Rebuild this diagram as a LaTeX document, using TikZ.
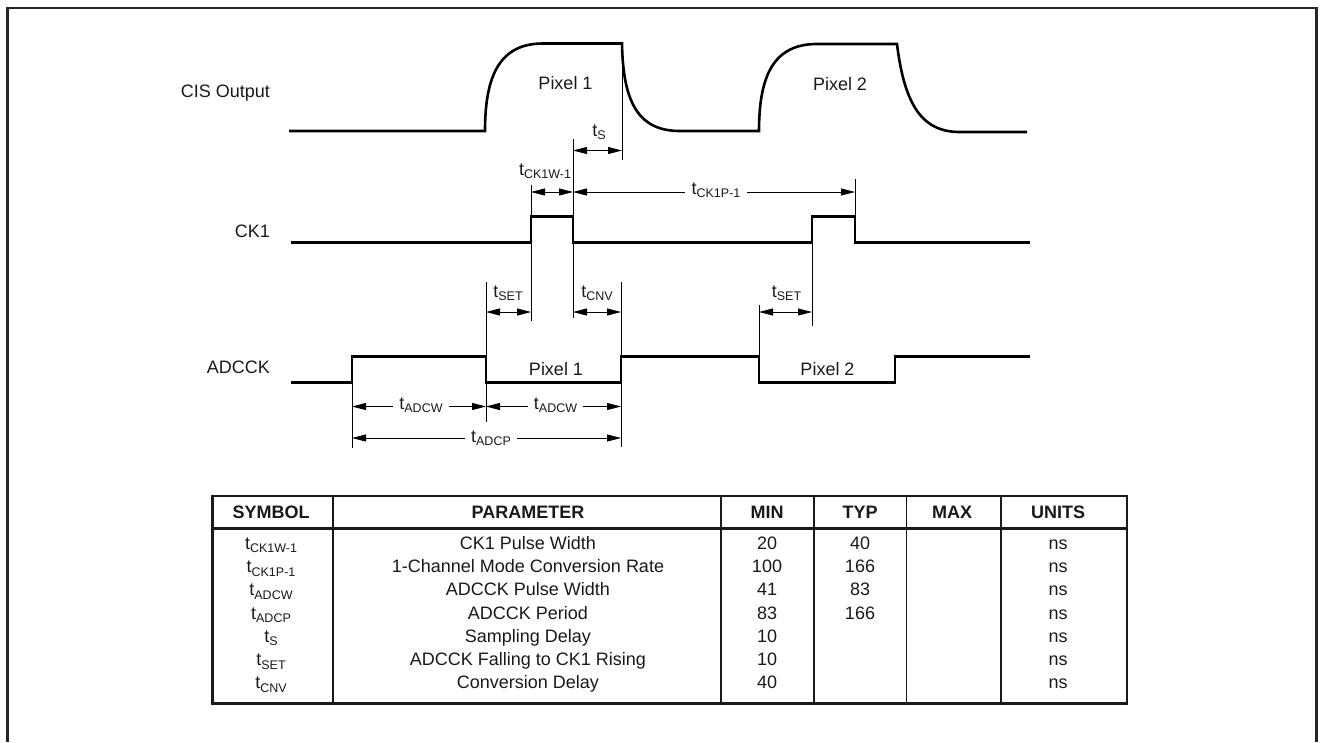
\documentclass[tikz,border=0pt]{standalone}
\usepackage{fontspec}
\setmainfont{Liberation Sans}
\usetikzlibrary{arrows.meta}
\newcommand{\tsb}[1]{t\raisebox{-3.5pt}{\fontsize{12.5}{13}\selectfont #1}}
\tikzset{
  wave/.style={line width=2.6pt, line join=miter, line cap=butt},
  ext/.style={line width=0.8pt},
  dim/.style={line width=0.8pt, arrows={Triangle[length=14pt,width=7pt]-Triangle[length=14pt,width=7pt]}},
  dimr/.style={line width=0.8pt, arrows={-Triangle[length=14pt,width=7pt]}},
  txt/.style={font=\fontsize{18}{21}\selectfont, inner sep=0pt, anchor=base, text=black!90},
  gaplbl/.style={txt, inner xsep=6pt},
  hdr/.style={txt, font=\fontsize{18}{21}\selectfont\bfseries},
  frame/.style={line width=2.6pt, draw=black!85},
  tbl/.style={line width=2.6pt, draw=black!90},
  tblm/.style={line width=2pt, draw=black!90},
  tbls/.style={line width=1.3pt, draw=black!90}
}
\begin{document}
\begin{tikzpicture}[x=1pt,y=-1pt]
\useasboundingbox (0,0) rectangle (1321,742);
% outer frame (open at bottom)
\draw[frame] (7.5,742) -- (7.5,8) -- (1316.5,8) -- (1316.5,742);

% signal names
\node[txt, anchor=base east] (nCIS) at (270,97) {CIS Output};
\node[txt, anchor=base east] (nCK1) at (270,237) {CK1};
\node[txt, anchor=base east] (nADC) at (270,373) {ADCCK};

% CIS output waveform
\draw[wave] (289,131) -- (485,131) .. controls (485,75) and (500,43.5) .. (543,43.5)
  -- (622,43.5) .. controls (623,105) and (640,131) .. (680,131)
  -- (759,131) .. controls (759,75) and (774,44) .. (817,44)
  -- (897,44) .. controls (905,110) and (925,132) .. (960,132) -- (1027,132);
\node[txt] (pix1a) at (565.5,89) {Pixel 1};
\node[txt] (pix2a) at (840,90) {Pixel 2};

% CK1 waveform
\draw[wave] (291,242.5) -- (531,242.5) -- (531,216.5) -- (573,216.5) -- (573,242.5)
  -- (812,242.5) -- (812,216.5) -- (855,216.5) -- (855,242.5) -- (1030,242.5);

% ADCCK waveform
\draw[wave] (291,382.5) -- (352,382.5) -- (352,356.5) -- (486,356.5) -- (486,382.5)
  -- (621,382.5) -- (621,356.5) -- (759,356.5) -- (759,382.5) -- (895,382.5)
  -- (895,356.5) -- (1030,356.5);
\node[txt] (pix1b) at (556,375) {Pixel 1};
\node[txt] (pix2b) at (827.5,375) {Pixel 2};

% extension lines
\draw[ext] (622,43.5) -- (622,160);
\draw[ext] (531,185) -- (531,321);
\draw[ext] (573,139) -- (573,318);
\draw[ext] (855,179) -- (855,216.5);
\draw[ext] (812,242.5) -- (812,326);
\draw[ext] (352,382.5) -- (352,448);
\draw[ext] (486,282) -- (486,422);
\draw[ext] (621,282) -- (621,447);
\draw[ext] (759,305) -- (759,356.5);

% t_S
\coordinate (sL) at (573,150.5); \coordinate (sR) at (622,150.5);
\draw[dim] (sL) -- (sR);
\node[txt] (lS) at (599,136) {\tsb{S}};

% t_CK1W-1
\coordinate (wL) at (531,192); \coordinate (wR) at (573,192);
\draw[dim] (wL) -- (wR);
\node[txt] (lW1) at (545,175) {\tsb{CK1W-1}};

% t_CK1P-1
\coordinate (pL) at (573,192); \coordinate (pR) at (855,192);
\node[gaplbl] (lP1) at (716,194) {\tsb{CK1P-1}};
\draw[dimr] (lP1.west |- pL) -- (pL);
\draw[dimr] (lP1.east |- pR) -- (pR);

% t_SET (1), t_CNV, t_SET (2)
\coordinate (e1L) at (486,312); \coordinate (e1R) at (531,312);
\draw[dim] (e1L) -- (e1R);
\node[txt] (lSET1) at (508,297) {\tsb{SET}};
\coordinate (cL) at (573,312); \coordinate (cR) at (621,312);
\draw[dim] (cL) -- (cR);
\node[txt] (lCNV) at (597,297) {\tsb{CNV}};
\coordinate (e2L) at (759,312); \coordinate (e2R) at (812,312);
\draw[dim] (e2L) -- (e2R);
\node[txt] (lSET2) at (786.5,297) {\tsb{SET}};

% t_ADCW (1) and (2)
\coordinate (a1L) at (352,406.5); \coordinate (a1R) at (486,406.5);
\node[gaplbl] (lADW1) at (421,409) {\tsb{ADCW}};
\draw[dimr] (lADW1.west |- a1L) -- (a1L);
\draw[dimr] (lADW1.east |- a1R) -- (a1R);
\coordinate (a2L) at (486,406.5); \coordinate (a2R) at (621,406.5);
\node[gaplbl] (lADW2) at (555.5,409) {\tsb{ADCW}};
\draw[dimr] (lADW2.west |- a2L) -- (a2L);
\draw[dimr] (lADW2.east |- a2R) -- (a2R);

% t_ADCP
\coordinate (dL) at (352,438); \coordinate (dR) at (621,438);
\node[gaplbl] (lADP) at (491,442) {\tsb{ADCP}};
\draw[dimr] (lADP.west |- dL) -- (dL);
\draw[dimr] (lADP.east |- dR) -- (dR);

% table
\draw[tblm] (333,496) -- (333,703.5);
\draw[tblm] (721,496) -- (721,703.5);
\draw[tblm] (814,496) -- (814,703.5);
\draw[tbls] (906.5,496) -- (906.5,703.5);
\draw[tblm] (1000.5,496) -- (1000.5,703.5);
\draw[tbl] (212.5,528.5) -- (1127,528.5);
\draw[tbl] (212.5,496) rectangle (1127,703.5);

\node[hdr] (hSym) at (271,518.3) {SYMBOL};
\node[hdr] (hPar) at (528,518.3) {PARAMETER};
\node[hdr] (hMin) at (767,518.3) {MIN};
\node[hdr] (hTyp) at (860,518.3) {TYP};
\node[hdr] (hMax) at (952,518.3) {MAX};
\node[hdr] (hUni) at (1058,518.3) {UNITS};

\foreach \s/\p/\mn/\ty [count=\i] in {
  CK1W-1/CK1 Pulse Width/20/40,
  CK1P-1/1-Channel Mode Conversion Rate/100/166,
  ADCW/ADCCK Pulse Width/41/83,
  ADCP/ADCCK Period/83/166,
  S/Sampling Delay/10/,
  SET/ADCCK Falling to CK1 Rising/10/,
  CNV/Conversion Delay/40/}{
  \node[txt] (sym\i) at (271,{549.3+(\i-1)*23.28}) {\tsb{\s}};
  \node[txt] (par\i) at (528,{549.3+(\i-1)*23.28}) {\p};
  \node[txt] (min\i) at (767,{549.3+(\i-1)*23.28}) {\mn};
  \node[txt] (typ\i) at (860,{549.3+(\i-1)*23.28}) {\ty};
  \node[txt] (uni\i) at (1058,{549.3+(\i-1)*23.28}) {ns};
}
\end{tikzpicture}
\end{document}
